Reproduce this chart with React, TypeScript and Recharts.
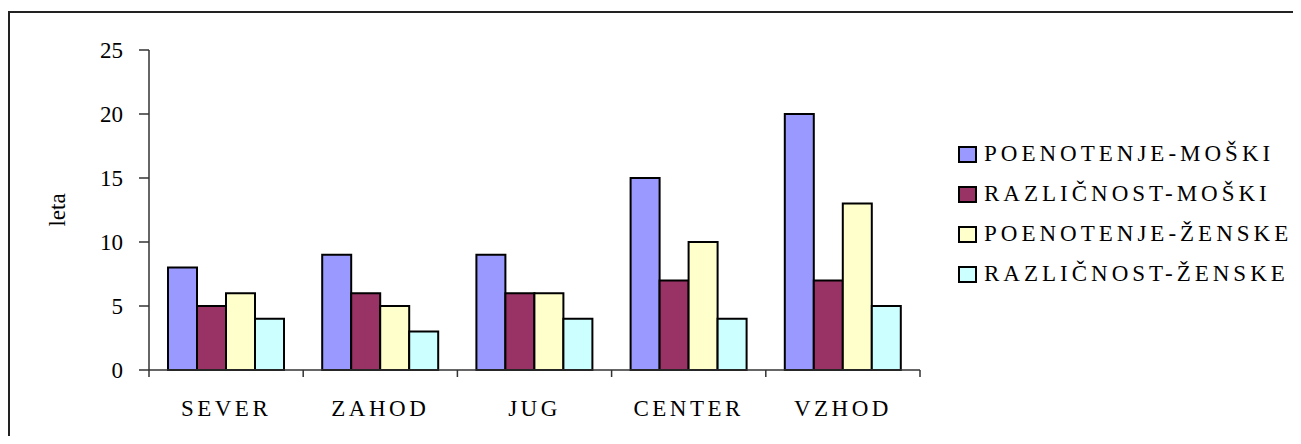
import React from "react";
import { BarChart, Bar, XAxis, YAxis } from "recharts";

// data
const regions = ["SEVER", "ZAHOD", "JUG", "CENTER", "VZHOD"];
const poenotenjeMoski = [8, 9, 9, 15, 20];
const razlicnostMoski = [5, 6, 6, 7, 7];
const poenotenjeZenske = [6, 5, 6, 10, 13];
const razlicnostZenske = [4, 3, 4, 4, 5];
const yTicks = [0, 5, 10, 15, 20, 25];

const SERIES = [
  { key: "pm", name: "POENOTENJE-MOŠKI", color: "#9999FF", values: poenotenjeMoski },
  { key: "rm", name: "RAZLIČNOST-MOŠKI", color: "#993366", values: razlicnostMoski },
  { key: "pz", name: "POENOTENJE-ŽENSKE", color: "#FFFFCC", values: poenotenjeZenske },
  { key: "rz", name: "RAZLIČNOST-ŽENSKE", color: "#CCFFFF", values: razlicnostZenske },
];

const data = regions.map((region, i) => {
  const row: Record<string, string | number> = { region };
  SERIES.forEach((s) => (row[s.key] = s.values[i]));
  return row;
});

const FONT = '"Liberation Serif", "Times New Roman", serif';
const AXIS_COLOR = "#333";
const FRAME_COLOR = "#8a8a8a";

function CategoryTick(props: any) {
  const { x, y, payload, index } = props;
  const half = payload?.offset ?? 0;
  const last = index === regions.length - 1;
  return (
    <g>
      <line x1={x - half} x2={x - half} y1={y} y2={y + 7} stroke={AXIS_COLOR} strokeWidth={1.5} />
      {last && <line x1={x + half} x2={x + half} y1={y} y2={y + 7} stroke={AXIS_COLOR} strokeWidth={1.5} />}
      <text
        x={x}
        y={y + 46}
        textAnchor="middle"
        fill="#000"
        style={{ fontFamily: FONT, fontSize: 23, letterSpacing: 3.5 }}
      >
        {payload.value}
      </text>
    </g>
  );
}

function YLabel(props: any) {
  const vb = props.viewBox || {};
  const cx = vb.x + 8;
  const cy = vb.y + vb.height / 2;
  return (
    <text
      x={cx}
      y={cy}
      transform={`rotate(-90 ${cx} ${cy})`}
      textAnchor="middle"
      dominantBaseline="central"
      fill="#000"
      style={{ fontFamily: FONT, fontSize: 23 }}
    >
      leta
    </text>
  );
}

function LegendBox() {
  return (
    <div style={{ position: "absolute", left: 948, top: 121, fontFamily: FONT }}>
      {SERIES.map((s) => (
        <div key={s.key} style={{ display: "flex", alignItems: "center", height: 40 }}>
          <span
            style={{
              display: "inline-block",
              width: 15,
              height: 13,
              background: s.color,
              border: "2px solid #000",
              marginRight: 7,
            }}
          />
          <span style={{ fontSize: 23, letterSpacing: 4, color: "#000", whiteSpace: "nowrap" }}>{s.name}</span>
        </div>
      ))}
    </div>
  );
}

export default function App() {
  return (
    // outer frame runs off the right and bottom edges, like the reference
    <div style={{ width: 1293, height: 428, overflow: "hidden" }}>
      <div
        style={{
          position: "relative",
          marginTop: 3,
          width: 1291,
          height: 440,
          borderLeft: "2px solid #222",
          borderTop: "2px solid #222",
          background: "#fff",
        }}
      >
        <BarChart
          width={1283}
          height={420}
          data={data}
          margin={{ top: 37, right: 373, bottom: 23, left: 39 }}
          barCategoryGap={19}
          barGap={0}
        >
          <XAxis
            dataKey="region"
            tick={<CategoryTick />}
            tickLine={false}
            tickSize={0}
            tickMargin={0}
            height={40}
            interval={0}
            axisLine={{ stroke: AXIS_COLOR, strokeWidth: 1.5 }}
          />
          <XAxis
            xAxisId="top"
            orientation="top"
            dataKey="region"
            tick={false}
            tickLine={false}
            height={0}
            axisLine={{ stroke: FRAME_COLOR, strokeWidth: 2 }}
          />
          <YAxis
            domain={[0, 25]}
            ticks={yTicks}
            width={100}
            tickSize={10}
            tickMargin={16}
            interval={0}
            tick={{ fill: "#000", fontFamily: FONT, fontSize: 23 }}
            tickLine={{ stroke: AXIS_COLOR, strokeWidth: 1.5 }}
            axisLine={{ stroke: AXIS_COLOR, strokeWidth: 1.5 }}
            label={{ content: <YLabel /> }}
          />
          <YAxis
            yAxisId="right"
            orientation="right"
            domain={[0, 25]}
            width={0}
            tick={false}
            tickLine={false}
            axisLine={{ stroke: FRAME_COLOR, strokeWidth: 2 }}
          />
          {SERIES.map((s) => (
            <Bar
              key={s.key}
              dataKey={s.key}
              name={s.name}
              fill={s.color}
              stroke="#000"
              strokeWidth={2}
              isAnimationActive={false}
            />
          ))}
        </BarChart>
        <LegendBox />
      </div>
    </div>
  );
}
